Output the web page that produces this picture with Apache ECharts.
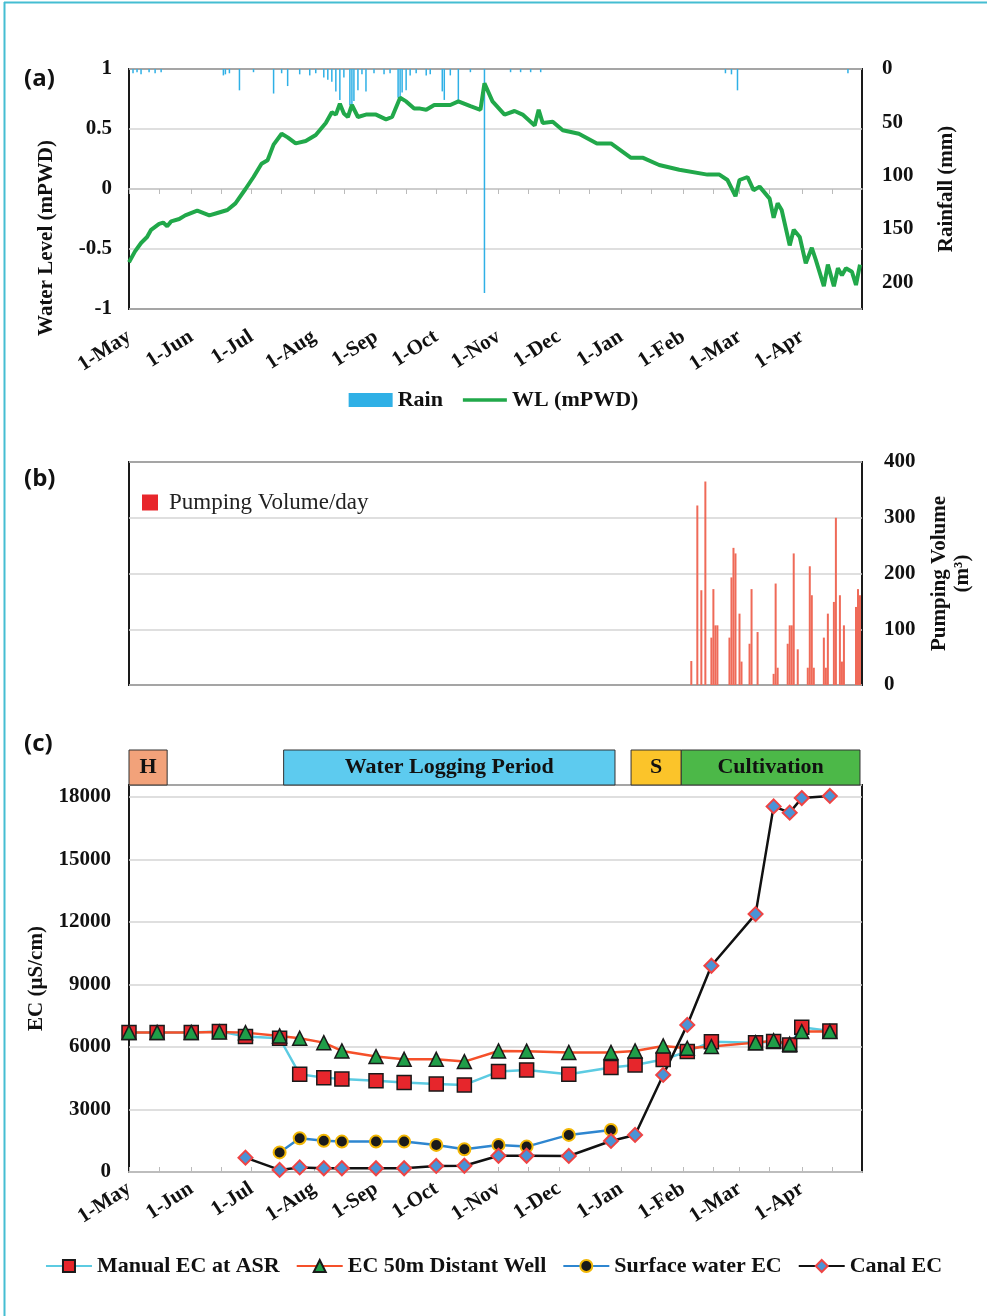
<!DOCTYPE html>
<html>
<head>
<meta charset="utf-8">
<script src="https://cdn.jsdelivr.net/npm/echarts@6/dist/echarts.min.js"></script>
<style>
  html, body { margin: 0; padding: 0; background: #fff; }
  #chart { width: 987px; height: 1316px; }
</style>
</head>
<body>
<div id="chart"></div>
<script>
// days counted from 1-May
const monthDays = [0, 31, 61, 92, 123, 153, 184, 214, 245, 276, 304, 335];
const monthLabels = ['1-May', '1-Jun', '1-Jul', '1-Aug', '1-Sep', '1-Oct', '1-Nov', '1-Dec', '1-Jan', '1-Feb', '1-Mar', '1-Apr'];
const halfMonthDays = [15, 46, 76, 107, 138, 168, 199, 229, 260, 291, 319, 350];

// (a) water level, mPWD
const wlDay = [0, 3, 6, 9, 11, 15, 17, 19, 21, 25, 28, 34, 40, 44, 49, 53, 58, 62, 66, 69, 72, 76, 79, 83, 88, 93, 98, 101, 103, 105, 107, 109, 111, 114, 118, 123, 128, 131, 135, 138, 142, 145, 148, 152, 157, 160, 164, 170, 175, 177, 181, 187, 192, 196, 202, 204, 206, 211, 216, 224, 233, 240, 250, 256, 264, 274, 288, 294, 298, 302, 304, 308, 311, 314, 319, 321, 323, 325, 329, 331, 334, 337, 340, 342, 346, 348, 351, 353, 355, 357, 360, 362, 364];
const wlLevel = [-0.61, -0.52, -0.45, -0.40, -0.34, -0.29, -0.28, -0.31, -0.27, -0.25, -0.22, -0.18, -0.22, -0.20, -0.175, -0.12, 0.0, 0.10, 0.21, 0.24, 0.37, 0.46, 0.43, 0.38, 0.40, 0.45, 0.55, 0.64, 0.62, 0.71, 0.63, 0.60, 0.70, 0.60, 0.62, 0.62, 0.58, 0.60, 0.76, 0.73, 0.67, 0.67, 0.66, 0.70, 0.70, 0.70, 0.73, 0.69, 0.66, 0.88, 0.73, 0.62, 0.65, 0.62, 0.53, 0.66, 0.55, 0.56, 0.49, 0.46, 0.38, 0.38, 0.26, 0.26, 0.20, 0.16, 0.12, 0.12, 0.075, -0.06, 0.075, 0.10, -0.01, 0.02, -0.08, -0.24, -0.12, -0.175, -0.47, -0.34, -0.40, -0.62, -0.49, -0.59, -0.81, -0.63, -0.81, -0.66, -0.72, -0.66, -0.69, -0.80, -0.63];

// (a) rainfall, mm
const rainDay = [2, 4, 6, 10, 13, 16, 47, 48, 50, 55, 62, 72, 76, 79, 85, 90, 93, 97, 99, 101, 103, 105, 107, 110, 111, 112, 114, 116, 118, 122, 127, 130, 134, 135, 136, 138, 140, 143, 148, 150, 156, 157, 160, 164, 170, 177, 190, 195, 200, 205, 297, 300, 303, 358];
const rainMm = [4, 3, 5, 3, 4, 3, 6, 5, 4, 20, 3, 23, 4, 16, 5, 6, 4, 8, 10, 12, 21, 29, 8, 34, 34, 30, 20, 5, 21, 4, 5, 4, 27, 27, 22, 20, 6, 4, 6, 5, 21, 29, 6, 31, 3, 210, 3, 3, 3, 3, 4, 5, 20, 4];

// (b) pumping volume, m3/day
const pumpDay = [280, 283, 285, 287, 290, 291, 292, 293, 299, 300, 301, 302, 304, 305, 309, 310, 313, 321, 322, 323, 328, 329, 330, 331, 333, 338, 339, 340, 341, 346, 347, 348, 351, 352, 354, 355, 356, 362, 363, 364];
const pumpVolume = [43, 322, 170, 365, 85, 172, 107, 107, 85, 193, 246, 236, 128, 42, 74, 172, 95, 20, 182, 31, 74, 107, 107, 236, 64, 31, 213, 161, 31, 85, 31, 128, 149, 300, 161, 42, 107, 140, 172, 161];

// (c) EC, uS/cm
const sampleDay = [0, 14, 31, 45, 58, 75, 85, 97, 106, 123, 137, 153, 167, 184, 198, 219, 240, 252, 266, 278, 290, 312, 321, 329, 335, 349];
const ecManual = [6700, 6700, 6700, 6750, 6500, 6420, 4690, 4530, 4460, 4380, 4300, 4220, 4180, 4820, 4900, 4690, 5020, 5140, 5400, 5780, 6250, 6200, 6260, 6100, 6950, 6770];
const ecWell = [6700, 6700, 6700, 6720, 6690, 6530, 6420, 6210, 5810, 5540, 5410, 5410, 5300, 5810, 5800, 5740, 5740, 5810, 6050, 5940, 6020, 6210, 6300, 6130, 6740, 6740];
const ecSurface = [null, null, null, null, null, 940, 1620, 1500, 1460, 1460, 1460, 1300, 1090, 1300, 1220, 1780, 2020, null, null, null, null, null, null, null, null, null];
const ecCanal = [null, null, null, null, 690, 100, 220, 180, 180, 180, 180, 290, 300, 780, 780, 770, 1490, 1780, 4660, 7060, 9900, 12380, 17550, 17250, 17950, 18050];

// period bands above (c)
const periodName = ['H', 'Water Logging Period', 'S', 'Cultivation'];
const periodStart = [0, 77, 250, 275];
const periodEnd = [19, 242, 275, 364];

const serif = 'Liberation Serif';
const pair = (xs, ys) => xs.map((x, i) => [x, ys[i]]).filter(p => p[1] != null);
const monthLabel = v => { const i = monthDays.indexOf(v); return i < 0 ? '' : monthLabels[i]; };
const tickFont = { fontFamily: serif, fontWeight: 'bold', fontSize: 21, color: '#111' };
const nameFont = { fontFamily: serif, fontWeight: 'bold', fontSize: 21, color: '#111' };
const legendFont = { fontFamily: serif, fontWeight: 'bold', fontSize: 22, color: '#111' };

const periodColors = ['#f2a27a', '#5dcbef', '#fbc42a', '#4cb848'];

function monthAxis(gridIndex, margin) {
  return {
    type: 'value', gridIndex: gridIndex, min: 0, max: 365,
    axisLine: { show: false, onZero: false },
    axisTick: { show: false },
    splitLine: { show: false },
    axisLabel: margin ? Object.assign({
      customValues: monthDays, rotate: 33, margin: margin, formatter: monthLabel
    }, tickFont) : { show: false }
  };
}

const chart = echarts.init(document.getElementById('chart'));
chart.setOption({
  animation: false,
  grid: [
    { left: 129, top: 69, width: 733, height: 240, show: true, borderColor: '#1a1a1a', borderWidth: 2 },
    { left: 129, top: 462, width: 733, height: 223, show: true, borderColor: '#1a1a1a', borderWidth: 2 },
    { left: 129, top: 785, width: 733, height: 387, show: true, borderColor: '#1a1a1a', borderWidth: 2 },
    { left: 129, top: 750, width: 733, height: 35 }
  ],
  xAxis: [
    monthAxis(0, 26),
    // tick marks along the zero line of (a)
    {
      type: 'value', gridIndex: 0, min: 0, max: 365,
      axisLine: { show: true, onZero: true, onZeroAxisIndex: 0, lineStyle: { color: '#c8c8c8', width: 1.5 } },
      axisTick: { show: true, inside: true, length: 5, customValues: halfMonthDays.concat(monthDays), lineStyle: { color: '#bbb' } },
      axisLabel: { show: false }, splitLine: { show: false }
    },
    monthAxis(1, 0),
    Object.assign(monthAxis(2, 15), {
      axisLine: { show: true, onZero: false, lineStyle: { color: '#bdbdbd', width: 2 } },
      axisTick: { show: true, inside: true, length: 5, customValues: halfMonthDays.concat(monthDays), lineStyle: { color: '#bbb' } }
    }),
    { type: 'value', gridIndex: 3, min: 0, max: 365, show: false }
  ],
  yAxis: [
    {
      type: 'value', gridIndex: 0, min: -1, max: 1, interval: 0.5, position: 'left',
      axisLine: { show: false }, axisTick: { show: false },
      axisLabel: Object.assign({ margin: 17 }, tickFont),
      splitLine: { lineStyle: { color: '#d4d4d4', width: 1.5 } }
    },
    {
      type: 'value', gridIndex: 0, min: 0, max: 225, interval: 50, inverse: true, position: 'right',
      name: 'Rainfall (mm)', nameLocation: 'middle', nameGap: 74, nameTextStyle: nameFont,
      axisLine: { show: false }, axisTick: { show: false }, splitLine: { show: false },
      axisLabel: Object.assign({ margin: 20, formatter: v => (v % 50 === 0 ? v : '') }, tickFont)
    },
    {
      type: 'value', gridIndex: 1, min: 0, max: 400, interval: 100, position: 'right',
      name: 'Pumping Volume\n(m³)', nameLocation: 'middle', nameGap: 66,
      nameTextStyle: Object.assign({ lineHeight: 23 }, nameFont),
      axisLine: { show: false }, axisTick: { show: false },
      axisLabel: Object.assign({ margin: 22 }, tickFont),
      splitLine: { lineStyle: { color: '#d4d4d4', width: 1.5 } }
    },
    {
      type: 'value', gridIndex: 2, min: 0, max: 18576, interval: 3000, position: 'left',
      name: 'EC (µS/cm)', nameLocation: 'middle', nameGap: 82, nameTextStyle: nameFont,
      axisLine: { show: false }, axisTick: { show: false },
      axisLabel: Object.assign({ margin: 18, formatter: v => (v % 3000 === 0 ? v : '') }, tickFont),
      splitLine: { lineStyle: { color: '#d4d4d4', width: 1.5 } }
    },
    { type: 'value', gridIndex: 3, min: 0, max: 1, show: false }
  ],
  legend: [
    {
      left: 'center', top: 384, itemWidth: 44, itemHeight: 14, itemGap: 20,
      textStyle: legendFont,
      data: [
        { name: 'Rain', icon: 'rect' },
        { name: 'WL (mPWD)', icon: 'path://M0,0 L44,0 L44,3.5 L0,3.5 Z' }
      ]
    },
    {
      left: 137, top: 486, itemWidth: 16, itemHeight: 16, itemGap: 10,
      textStyle: { fontFamily: serif, fontSize: 23, color: '#222', padding: [0, 0, 0, 6] },
      data: [{ name: 'Pumping Volume/day', icon: 'rect', itemStyle: { color: '#e8262b' } }]
    },
    {
      left: 'center', top: 1250, itemWidth: 46, itemHeight: 15, itemGap: 16,
      textStyle: legendFont,
      data: ['Manual EC at ASR', 'EC 50m Distant Well', 'Surface water EC', 'Canal EC']
    }
  ],
  series: [
    {
      name: 'Rain', type: 'bar', xAxisIndex: 0, yAxisIndex: 1, barWidth: 1.5,
      itemStyle: { color: '#2fb0e6' }, data: pair(rainDay, rainMm)
    },
    {
      name: 'WL (mPWD)', type: 'line', xAxisIndex: 0, yAxisIndex: 0, symbol: 'none',
      lineStyle: { color: '#21a84a', width: 4 }, itemStyle: { color: '#21a84a' },
      data: pair(wlDay, wlLevel)
    },
    {
      name: 'Pumping Volume/day', type: 'bar', xAxisIndex: 2, yAxisIndex: 2, barWidth: 2,
      itemStyle: { color: '#ef6a58' }, data: pair(pumpDay, pumpVolume)
    },
    {
      name: 'Manual EC at ASR', type: 'line', xAxisIndex: 3, yAxisIndex: 3,
      symbol: 'rect', symbolSize: 14,
      lineStyle: { color: '#5ccbe2', width: 2.5 },
      itemStyle: { color: '#e6262c', borderColor: '#1a1a1a', borderWidth: 1.5 },
      data: pair(sampleDay, ecManual)
    },
    {
      name: 'EC 50m Distant Well', type: 'line', xAxisIndex: 3, yAxisIndex: 3,
      symbol: 'triangle', symbolSize: 14,
      lineStyle: { color: '#f5502a', width: 2.5 },
      itemStyle: { color: '#1f9e48', borderColor: '#1a1a1a', borderWidth: 1.5 },
      data: pair(sampleDay, ecWell)
    },
    {
      name: 'Surface water EC', type: 'line', xAxisIndex: 3, yAxisIndex: 3,
      symbol: 'circle', symbolSize: 12,
      lineStyle: { color: '#2e86d0', width: 2.5 },
      itemStyle: { color: '#1a1a1a', borderColor: '#f2b705', borderWidth: 2 },
      data: pair(sampleDay, ecSurface)
    },
    {
      name: 'Canal EC', type: 'line', xAxisIndex: 3, yAxisIndex: 3,
      symbol: 'diamond', symbolSize: 14,
      lineStyle: { color: '#111', width: 2.5 },
      itemStyle: { color: '#4a93d6', borderColor: '#ef4444', borderWidth: 2 },
      data: pair(sampleDay, ecCanal)
    },
    {
      type: 'line', xAxisIndex: 4, yAxisIndex: 4, data: [], silent: true,
      markArea: {
        silent: true,
        label: { position: 'inside', fontFamily: serif, fontWeight: 'bold', fontSize: 22, color: '#111' },
        data: periodName.map((n, i) => [
          { name: n, xAxis: periodStart[i], itemStyle: { color: periodColors[i], borderColor: '#333', borderWidth: 1, opacity: 1 } },
          { xAxis: periodEnd[i] }
        ])
      }
    }
  ],
  graphic: [
    { type: 'line', shape: { x1: 4.5, y1: 2, x2: 4.5, y2: 1316 }, style: { stroke: '#45bdd2', lineWidth: 2 } },
    { type: 'line', shape: { x1: 4, y1: 2.5, x2: 987, y2: 2.5 }, style: { stroke: '#45bdd2', lineWidth: 2 } },
    { type: 'text', left: 24, top: 67, style: { text: '(a)', font: 'bold 24px "Open Sans"', fill: '#111' } },
    { type: 'text', left: 24, top: 467, style: { text: '(b)', font: 'bold 24px "Open Sans"', fill: '#111' } },
    { type: 'text', left: 24, top: 732, style: { text: '(c)', font: 'bold 24px "Open Sans"', fill: '#111' } },
    {
      type: 'text', x: 47, y: 238, rotation: Math.PI / 2,
      style: { text: 'Water Level (mPWD)', font: 'bold 21px "Liberation Serif"', fill: '#111', align: 'center', verticalAlign: 'middle' }
    }
  ]
});
</script>
</body>
</html>
